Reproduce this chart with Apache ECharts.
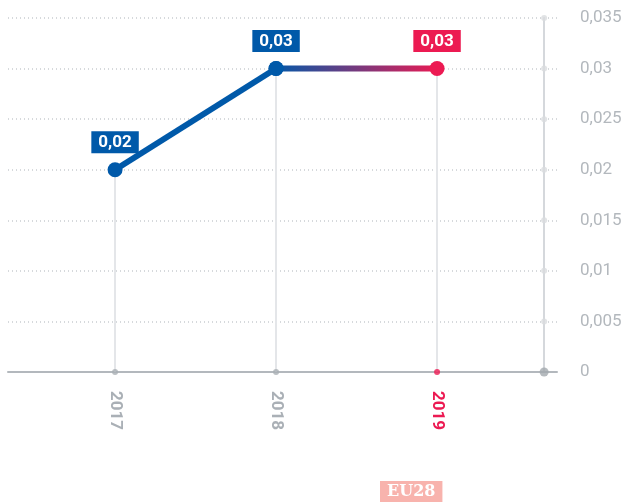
<!DOCTYPE html>
<html>
<head>
<meta charset="utf-8">
<script src="https://cdn.jsdelivr.net/npm/echarts@6/dist/echarts.min.js"></script>
<style>
  html, body { margin: 0; padding: 0; background: #fff; }
  #chart { width: 630px; height: 502px; }
</style>
</head>
<body>
<div id="chart"></div>
<script>
// data
const years = [2017, 2018, 2019];
const values = [0.02, 0.03, 0.03];
const highlightYear = 2019;
const yTicks = [0, 0.005, 0.01, 0.015, 0.02, 0.025, 0.03, 0.035];
const legendName = "EU28";

const blue = "#0059a9";
const red = "#ec1a52";

// x axis range (value axis so the years sit where the original puts them)
const xMin = 2016.335;
const xMax = 2019.745;
const yAxisAt = 2019.665; // where the right axis line sits

const comma = (v) => String(v).replace(".", ",");

const chart = echarts.init(document.getElementById("chart"));

const pts = years.map((y, i) => [y, values[i]]);
const hi = years.indexOf(highlightYear);

const pointLabel = {
  position: "top",
  distance: 9,
  formatter: (p) => comma(p.value[1]),
  color: "#fff",
  fontWeight: "bold",
  fontSize: 17,
  fontFamily: "Roboto",
  padding: [3, 7, 2, 7],
};

const option = {
  animation: false,
  title: {
    text: legendName,
    left: 380,
    top: 481,
    backgroundColor: "#f8b3ad",
    padding: [3, 7, 3, 7],
    textStyle: {
      color: "#fff",
      fontFamily: "DejaVu Serif",
      fontWeight: "bold",
      fontSize: 16,
    },
  },
  grid: { left: 8, right: 73, top: 18, bottom: 130 },
  xAxis: {
    type: "value",
    min: xMin,
    max: xMax,
    splitLine: { show: false },
    axisLine: { show: true, lineStyle: { color: "#b3b8bd", width: 2 } },
    axisTick: { show: false },
    axisLabel: {
      customValues: years,
      rotate: -90,
      margin: 19,
      formatter: (v) => (v === highlightYear ? "{h|" + v + "}" : "{n|" + v + "}"),
      rich: {
        n: { color: "#aab0b6", fontWeight: "bold", fontSize: 17, fontFamily: "Roboto" },
        h: { color: red, fontWeight: "bold", fontSize: 17, fontFamily: "Roboto" },
      },
    },
  },
  yAxis: {
    type: "value",
    position: "right",
    offset: -13,
    min: 0,
    max: 0.035,
    interval: 0.005,
    axisLine: { show: true, lineStyle: { color: "#d5d8dc", width: 2 } },
    axisTick: { show: false },
    splitLine: {
      show: true,
      lineStyle: { color: "#c9cdd1", type: [1, 3], width: 1.5 },
    },
    axisLabel: {
      margin: 36,
      color: "#b3b8bd",
      fontSize: 17,
      fontFamily: "Roboto",
      formatter: comma,
    },
  },
  series: [
    {
      // drop lines from each point to the x axis
      type: "line",
      data: [],
      z: 1,
      markLine: {
        silent: true,
        z: 1,
        symbol: "none",
        label: { show: false },
        lineStyle: { color: "#e4e6e9", width: 2, type: "solid" },
        data: years.map((y, i) => [{ coord: [y, 0] }, { coord: [y, values[i]] }]),
      },
    },
    {
      // dots on the x axis
      type: "scatter",
      clip: false,
      symbolSize: 6,
      z: 10,
      data: years.map((y, i) => ({
        value: [y, 0],
        itemStyle: { color: i === hi ? red : "#a9afb4" },
      })),
    },
    {
      // dots on the y axis
      type: "scatter",
      clip: false,
      symbolSize: (v) => (v[1] === 0 ? 9 : 6),
      z: 10,
      data: yTicks.map((t) => ({
        value: [yAxisAt, t],
        itemStyle: { color: t === 0 ? "#a3a9ae" : "#d9dcdf" },
      })),
    },
    {
      type: "line",
      z: 5,
      data: pts.slice(0, hi).map((p) => ({ value: p })),
      symbol: "circle",
      symbolSize: 15,
      lineStyle: { color: blue, width: 6 },
      itemStyle: { color: blue },
      label: Object.assign({ show: true, backgroundColor: blue }, pointLabel),
    },
    {
      type: "line",
      z: 4,
      data: pts.slice(hi - 1).map((p, i) => ({
        value: p,
        itemStyle: { color: i === 0 ? blue : red },
        label: { show: i !== 0 },
      })),
      symbol: "circle",
      symbolSize: 15,
      lineStyle: {
        width: 6,
        color: new echarts.graphic.LinearGradient(0, 0, 1, 0, [
          { offset: 0, color: blue },
          { offset: 1, color: red },
        ]),
      },
      label: Object.assign({ backgroundColor: red }, pointLabel),
    },
  ],
};

chart.setOption(option);
</script>
</body>
</html>
